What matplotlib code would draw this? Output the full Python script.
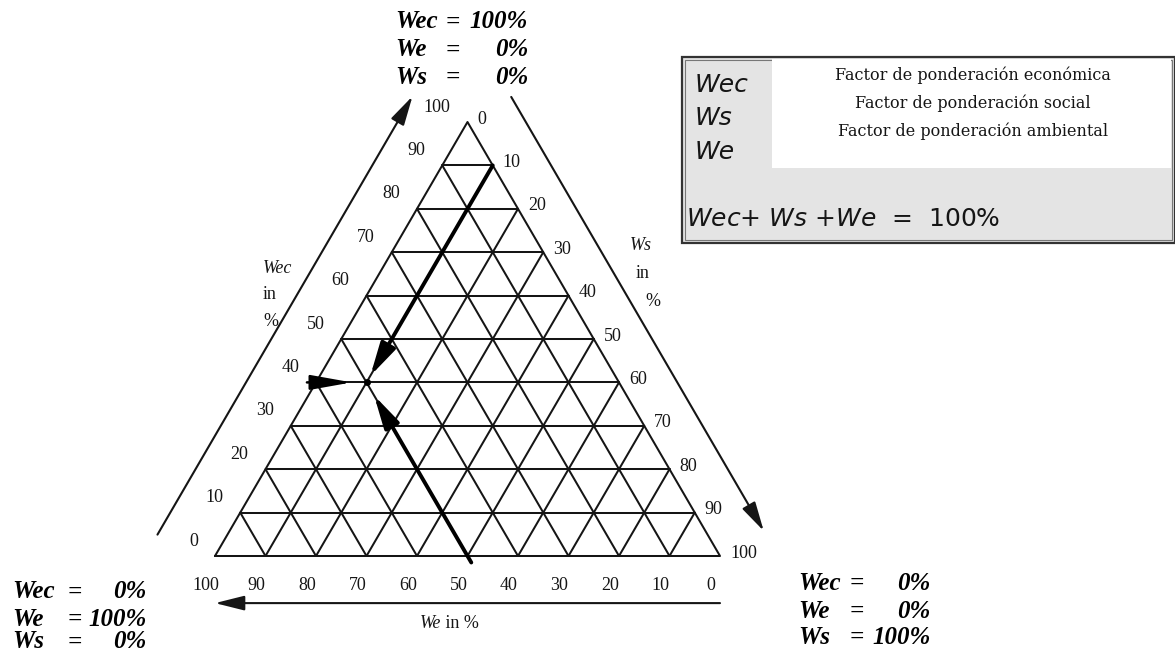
"""
Ternary weighting diagram (Wec / We / Ws) with the legend box.
Saves out.png (1175 x 652 px).
"""
import numpy as np
import matplotlib
matplotlib.use('Agg')
import matplotlib.pyplot as plt
from matplotlib.patches import Rectangle

# ---- data -------------------------------------------------------------
GRID_STEPS = [10, 20, 30, 40, 50, 60, 70, 80, 90]
TICK_VALUES = [0, 10, 20, 30, 40, 50, 60, 70, 80, 90, 100]

# selected weighting point (percent)
POINT_WEC = 40
POINT_WS = 10
POINT_WE = 50

# interior arrows as (wec, ws) start -> (wec, ws) end
ARROW_WS_START = (90, 10)     # along Ws = 10
ARROW_WS_END = (41.5, 10)
ARROW_WE_START = (-1.5, 51.5)  # along We = 50
ARROW_WE_END = (37, 13)
ARROW_WEC_START = (40, -1.8)   # along Wec = 40
ARROW_WEC_END = (40, 7.1)

CORNER_NAMES = ['Wec', 'We', 'Ws']
CORNER_TOP = ['100%', '0%', '0%']
CORNER_LEFT = ['0%', '100%', '0%']
CORNER_RIGHT = ['0%', '0%', '100%']

LEGEND_NAMES = ['Wec', 'Ws', 'We']
LEGEND_DESC = ['Factor de ponderación económica',
               'Factor de ponderación social',
               'Factor de ponderación ambiental']
LEGEND_SUM = r'$\it{Wec}$+ $\it{Ws}$ +$\it{We}$  =  100%'

# ---- layout -----------------------------------------------------------
W, H = 1175, 652
X0_PX, X100_PX = 215, 720      # bottom corners in pixels
Y0_PX, APEX_PX = 556, 122
SX = (X100_PX - X0_PX) / 100.0
SY = (Y0_PX - APEX_PX) / (100 * np.sqrt(3) / 2)

SERIF = 'Liberation Serif'
SANS = 'DejaVu Sans'
INK = '#151515'


def tern(wec, ws):
    """ternary (wec, ws) -> cartesian data coordinates"""
    return ws + wec / 2.0, wec * np.sqrt(3) / 2.0


def fpx(px, py):
    """pixel position -> figure fraction"""
    return px / W, 1 - py / H


def edge_pt(a, b, t, d):
    """point at fraction t along edge a->b, pushed d units outward"""
    a, b = np.array(a), np.array(b)
    v = (b - a) / np.linalg.norm(b - a)
    n = np.array([-v[1], v[0]])
    return a + (b - a) * t + n * d


fig = plt.figure(figsize=(W / 100, H / 100), dpi=100)
fig.patch.set_facecolor('white')
ax = fig.add_axes([0, 0, 1, 1])
ax.set_xlim(-X0_PX / SX, (W - X0_PX) / SX)
ax.set_ylim(-(H - Y0_PX) / SY, Y0_PX / SY)
ax.axis('off')

grid_kw = dict(color=INK, lw=1.45, solid_capstyle='round')

# triangle outline
A = tern(0, 0)       # We = 100
B = tern(0, 100)     # Ws = 100
C = tern(100, 0)     # Wec = 100
ax.plot([A[0], B[0], C[0], A[0]], [A[1], B[1], C[1], A[1]], **grid_kw)

# grid lines
for k in GRID_STEPS:
    p, q = tern(k, 0), tern(k, 100 - k)           # Wec = k
    ax.plot([p[0], q[0]], [p[1], q[1]], **grid_kw)
    p, q = tern(0, k), tern(100 - k, k)           # Ws = k
    ax.plot([p[0], q[0]], [p[1], q[1]], **grid_kw)
    p, q = tern(0, 100 - k), tern(100 - k, 0)     # We = k
    ax.plot([p[0], q[0]], [p[1], q[1]], **grid_kw)

# outer axis arrows
outer = dict(arrowstyle='-|>,head_length=1.0,head_width=0.25',
             color=INK, lw=1.5, mutation_scale=18, shrinkA=0, shrinkB=0)
s, e = edge_pt(A, C, -0.02, 12), edge_pt(A, C, 0.99, 12)
ax.annotate('', xy=e, xytext=s, arrowprops=outer)
s, e = edge_pt(C, B, 0.0, 10), edge_pt(C, B, 1.0, 10)
ax.annotate('', xy=e, xytext=s, arrowprops=outer)
s, e = edge_pt(B, A, 0.0, 9.4), edge_pt(B, A, 1.0, 9.4)
ax.annotate('', xy=e, xytext=s, arrowprops=outer)

# interior arrows towards the selected point
inner = dict(arrowstyle='-|>,head_length=1.1,head_width=0.27',
             color='black', lw=2.8, mutation_scale=18, shrinkA=0, shrinkB=0)
for st, en in [(ARROW_WS_START, ARROW_WS_END),
               (ARROW_WE_START, ARROW_WE_END)]:
    ax.annotate('', xy=tern(*en), xytext=tern(*st), arrowprops=inner)
horiz = dict(arrowstyle='-|>,head_length=1.4,head_width=0.25',
             color='black', lw=1.8, mutation_scale=18, shrinkA=0, shrinkB=0)
ax.annotate('', xy=tern(*ARROW_WEC_END), xytext=tern(*ARROW_WEC_START),
            arrowprops=horiz)
ax.plot(*tern(POINT_WEC, POINT_WS), 'o', color='black', ms=4)

# tick labels
tick_kw = dict(fontsize=13, family=SERIF, color=INK,
               textcoords='offset pixels')
for v in TICK_VALUES:
    ax.annotate(str(v), xy=tern(v, 0), xytext=(-17, 15),
                ha='right', va='center', **tick_kw)              # Wec
    ax.annotate(str(v), xy=tern(100 - v, v), xytext=(10, 3),
                ha='left', va='center', **tick_kw)               # Ws
    ax.annotate(str(v), xy=tern(0, 100 - v), xytext=(-9, -30),
                ha='center', va='center', **tick_kw)             # We

# axis names
lab = dict(fontsize=13, family=SERIF, color=INK, va='center')
fig.text(*fpx(263, 268), 'Wec', style='italic', ha='left', **lab)
fig.text(*fpx(263, 295), 'in', ha='left', **lab)
fig.text(*fpx(263, 322), '%', ha='left', **lab)
fig.text(*fpx(630, 246), 'Ws', style='italic', ha='left', **lab)
fig.text(*fpx(636, 273), 'in', ha='left', **lab)
fig.text(*fpx(645, 302), '%', ha='left', **lab)
fig.text(*fpx(441, 624), 'We', style='italic', ha='right', **lab)
fig.text(*fpx(441, 624), ' in %', ha='left', **lab)


# corner blocks
def corner(x_name, x_eq, x_val, ys, values):
    kw = dict(fontsize=18, family=SERIF, weight='bold', style='italic',
              color='black', va='center')
    for name, val, y in zip(CORNER_NAMES, values, ys):
        fig.text(*fpx(x_name, y), name, ha='left', **kw)
        fig.text(*fpx(x_eq, y), '=', ha='center', **kw)
        fig.text(*fpx(x_val, y), val, ha='right', **kw)


corner(395, 453, 528, [22, 50, 77], CORNER_TOP)
corner(12, 75, 147, [592, 619, 642], CORNER_LEFT)
corner(798, 857, 931, [583, 611, 637], CORNER_RIGHT)

# legend box
fig.patches.append(Rectangle(fpx(682, 243), 493 / W, 186 / H,
                             transform=fig.transFigure, facecolor='#e4e4e4',
                             edgecolor='#333333', lw=1.6))
fig.patches.append(Rectangle(fpx(685, 240), 487 / W, 180 / H,
                             transform=fig.transFigure, facecolor='none',
                             edgecolor='#777777', lw=0.8))
fig.patches.append(Rectangle(fpx(772, 168), 399 / W, 109 / H,
                             transform=fig.transFigure, facecolor='white',
                             edgecolor='none'))

sans = dict(fontsize=18, family=SANS, color=INK, va='center')
for name, y in zip(LEGEND_NAMES, [85, 118, 152]):
    fig.text(*fpx(695, y), name, style='italic', ha='left', **sans)
for desc, y in zip(LEGEND_DESC, [75, 103, 131]):
    fig.text(*fpx(973, y), desc, ha='center', fontsize=11.5,
             family='DejaVu Serif', color=INK, va='center')
fig.text(*fpx(686, 219), LEGEND_SUM, ha='left', **sans)

fig.savefig('out.png', dpi=100, facecolor='white')
